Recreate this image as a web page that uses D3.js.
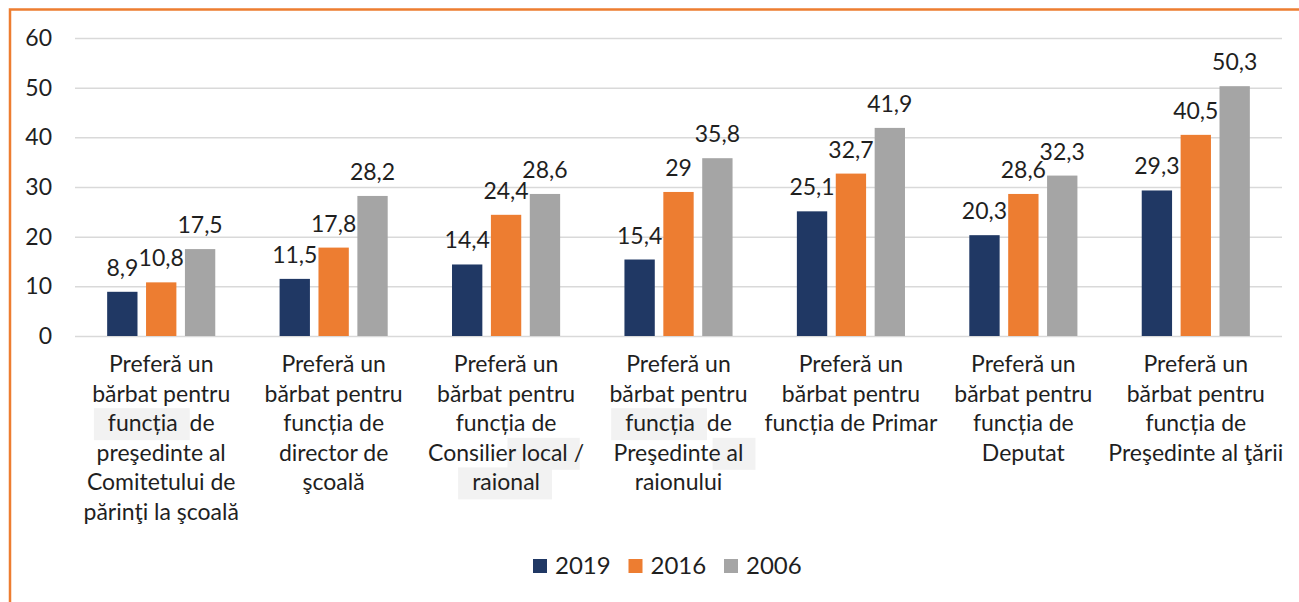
<!DOCTYPE html>
<html>
<head>
<meta charset="utf-8">
<script src="https://cdn.jsdelivr.net/npm/d3@7"></script>
<style>
  html, body { margin: 0; padding: 0; background: #fff; }
  svg { display: block; }
  text { font-family: Lato, "Open Sans", sans-serif; fill: #1f1f1f; }
</style>
</head>
<body>
<svg id="chart" width="1299" height="602"></svg>
<script>
// Category labels, one entry per wrapped line
const categories = [
  ["Preferă un", "bărbat pentru", "funcția  de", "preşedinte al", "Comitetului de", "părinţi la şcoală"],
  ["Preferă un", "bărbat pentru", "funcția de", "director de", "şcoală"],
  ["Preferă un", "bărbat pentru", "funcția de", "Consilier local /", "raional"],
  ["Preferă un", "bărbat pentru", "funcția  de", "Preşedinte al", "raionului"],
  ["Preferă un", "bărbat pentru", "funcția de Primar"],
  ["Preferă un", "bărbat pentru", "funcția de", "Deputat"],
  ["Preferă un", "bărbat pentru", "funcția de", "Preşedinte al ţării"]
];
const seriesNames = ["2019", "2016", "2006"];
const values2019 = [8.9, 11.5, 14.4, 15.4, 25.1, 20.3, 29.3];
const values2016 = [10.8, 17.8, 24.4, 29, 32.7, 28.6, 40.5];
const values2006 = [17.5, 28.2, 28.6, 35.8, 41.9, 32.3, 50.3];
const yTicks = [0, 10, 20, 30, 40, 50, 60];
const colors = ["#203864", "#ED7D31", "#A5A5A5"];
// Words shaded with a light background: [category, line, word]
const shadedWords = [[0, 2, "funcția"], [2, 3, "local"], [2, 4, "raional"], [3, 2, "funcția"], [3, 3, "al"]];

const series = [values2019, values2016, values2006];
const svg = d3.select("#chart");
const fontSize = 23;

// Outer frame (top and left edges)
svg.append("path")
  .attr("d", "M10,602 L10,9.5 L1299,9.5")
  .attr("fill", "none").attr("stroke", "#ED7D31").attr("stroke-width", 2.5);

const plotLeft = 75, plotRight = 1282, plotTop = 38, plotBottom = 336;
const ids = d3.range(categories.length);
const x0 = d3.scaleBand().domain(ids).range([plotLeft, plotRight]).paddingInner(0.373).paddingOuter(0.1865);
const x1 = d3.scaleBand().domain(d3.range(seriesNames.length)).range([0, x0.bandwidth()]).paddingInner(0.22);
const y = d3.scaleLinear().domain([0, 60]).range([plotBottom, plotTop]);

// Gridlines and tick labels
const yAxis = d3.axisLeft(y).tickValues(yTicks).tickSize(-(plotRight - plotLeft)).tickPadding(23);
const gy = svg.append("g").attr("transform", `translate(${plotLeft},0)`).call(yAxis);
gy.select(".domain").remove();
gy.selectAll(".tick line").attr("stroke", "#D9D9D9").attr("stroke-width", 1.5);
gy.selectAll(".tick text").attr("font-size", fontSize).attr("fill", "#1f1f1f")
  .attr("font-family", "Lato, sans-serif");

// Bars
const groups = svg.append("g").selectAll("g").data(ids).join("g")
  .attr("transform", i => `translate(${x0(i)},0)`);
groups.selectAll("rect").data(i => series.map((s, k) => ({ k, v: s[i] }))).join("rect")
  .attr("x", d => x1(d.k))
  .attr("width", x1.bandwidth())
  .attr("y", d => y(d.v))
  .attr("height", d => y(0) - y(d.v))
  .attr("fill", d => colors[d.k]);

// Value labels
groups.selectAll("text.val").data(i => series.map((s, k) => ({ k, v: s[i] }))).join("text")
  .attr("class", "val")
  .attr("x", d => x1(d.k) + x1.bandwidth() / 2)
  .attr("y", d => y(d.v) - 16)
  .attr("text-anchor", "middle")
  .attr("font-size", fontSize)
  .text(d => String(d.v).replace(".", ","));

// Category labels
const lineH = 29.6, firstBase = 372;
const catG = svg.append("g");
const shadeG = catG.append("g");
const labelG = catG.append("g");
categories.forEach((lines, i) => {
  const cx = x0(i) + x0.bandwidth() / 2;
  lines.forEach((line, j) => {
    const t = labelG.append("text")
      .attr("x", cx).attr("y", firstBase + j * lineH)
      .attr("text-anchor", "middle").attr("font-size", fontSize)
      .attr("xml:space", "preserve")
      .text(line);
    shadedWords.filter(w => w[0] === i && w[1] === j).forEach(w => {
      const idx = line.indexOf(w[2]);
      const node = t.node();
      const total = node.getComputedTextLength();
      const start = idx > 0 ? node.getSubStringLength(0, idx) : 0;
      const wlen = node.getSubStringLength(idx, w[2].length);
      const sx = cx - total / 2 + start;
      shadeG.append("rect")
        .attr("x", sx - 14).attr("width", wlen + 26)
        .attr("y", firstBase + j * lineH - 23).attr("height", 32)
        .attr("fill", "#F2F2F2");
    });
  });
});

// Legend
const legend = svg.append("g").attr("transform", "translate(533,559)");
const items = legend.selectAll("g").data(seriesNames).join("g")
  .attr("transform", (d, k) => `translate(${k * 95.5},0)`);
items.append("rect").attr("width", 14).attr("height", 14).attr("fill", (d, k) => colors[k]);
items.append("text").attr("x", 22).attr("y", 15).attr("font-size", 24).text(d => d);
</script>
</body>
</html>
